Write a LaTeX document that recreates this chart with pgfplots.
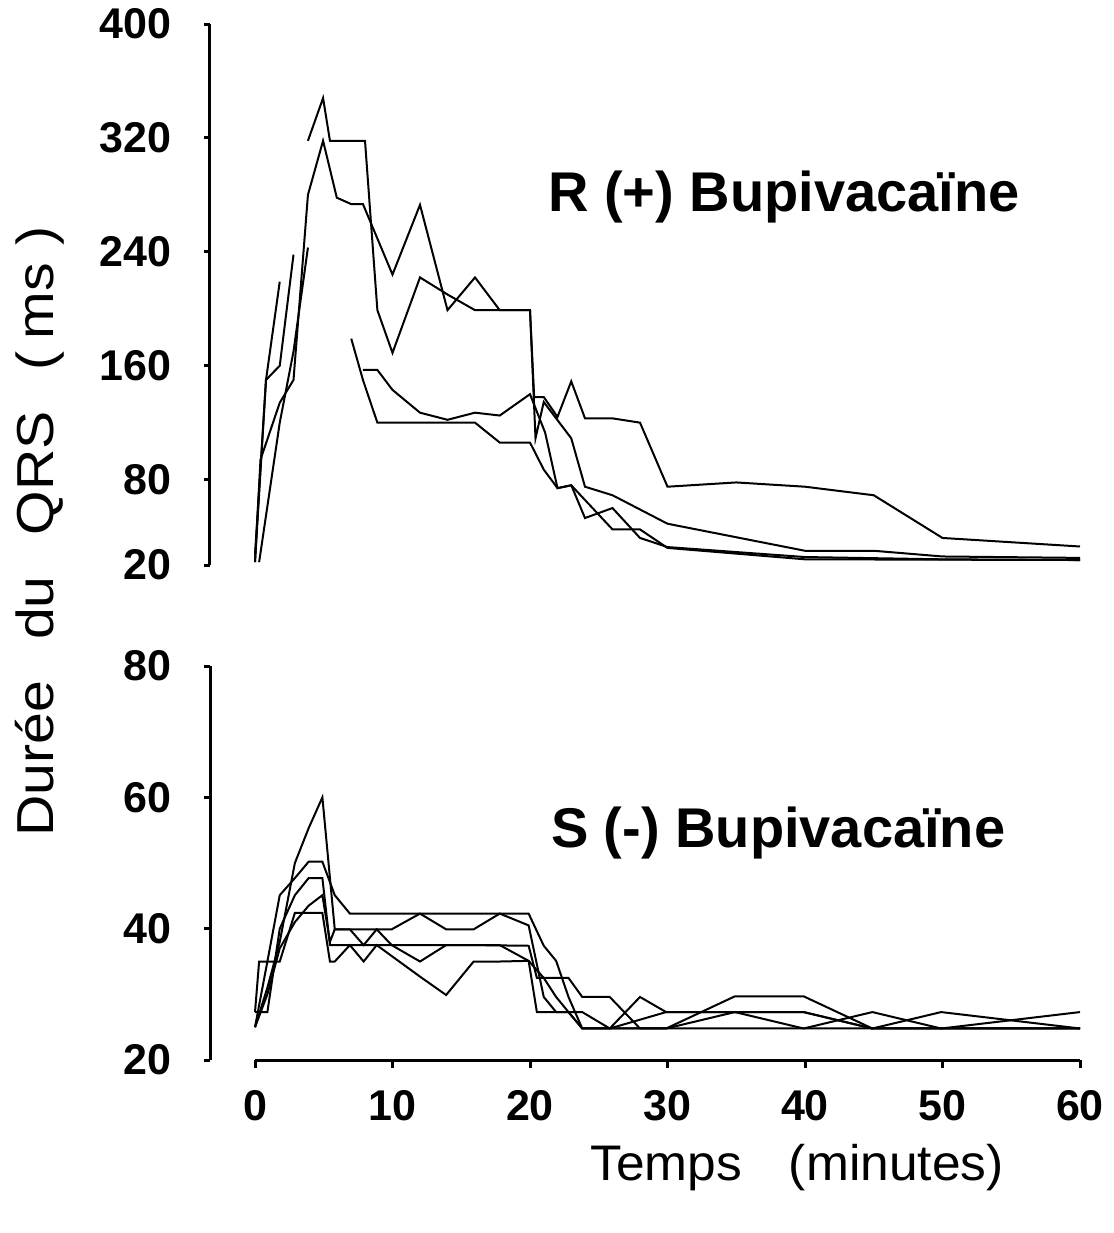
\documentclass[border=0pt]{standalone}
\usepackage{fontspec}
\setmainfont{Liberation Sans}
\newfontfamily\labfont{Liberation Sans}[FakeStretch=1.1]
\newfontfamily\xlabfont{Liberation Sans}[FakeStretch=1.03]
\usepackage{pgfplots}
\pgfplotsset{compat=1.18}
\begin{document}
\begin{tikzpicture}
\path[use as bounding box] (0,0) rectangle (557pt,-616.5pt);
\pgfplotsset{
  d/.style={black, line width=1pt, mark=none},
  panel/.style={scale only axis, width=435pt, xmin=-3.273, xmax=60,
    axis x line=none, axis y line*=left,
    axis line style={line width=1.5pt, black},
    major tick style={line width=1.5pt, black},
    tick align=outside, major tick length=3pt,
    yticklabel style={font=\fontsize{21.5}{21.5}\selectfont\bfseries, anchor=east, inner sep=0pt, xshift=-16pt},
    /pgf/number format/assume math mode=true,
    clip=false, anchor=south west},
}
% ---------------- top panel ----------------
\begin{axis}[panel, at={(105pt,-282.5pt)}, height=270.5pt,
  ymin=20, ymax=400, ytick={20,80,160,240,320,400}]
\addplot[d] coordinates {(0,22) (0.8,150) (1.8,219)};
\addplot[d] coordinates {(0,27) (0.8,150) (1.8,160) (2.8,238)};
\addplot[d] coordinates {(0.3,22) (1.8,120) (2.8,170) (3.85,243)};
\addplot[d] coordinates {(0,22) (0.4,94) (1.8,134) (2.8,150) (3.85,280) (4.95,318) (5.95,278) (7,273.5) (7.85,273.5) (10,224) (12,273) (14,199) (16,222) (17.8,199) (20,199) (20.3,138) (21,138) (22,124) (23,149) (24,123) (26,123) (28,120) (30,75) (35,78) (40,75) (45,69) (50,39) (60,33)};
\addplot[d] coordinates {(3.85,318) (4.95,348) (5.45,318) (8,318) (8.9,199) (10,169) (12,222) (14,210) (16,199) (17.8,199) (20,199) (20.4,109) (21,134.5) (23,109) (24,75) (26,69) (30,49) (40,30) (45,30) (50,26) (60,25)};
\addplot[d] coordinates {(7,179) (7.85,150) (8.9,120) (16,120) (17.8,106) (20,106) (21,87) (22,74) (23,76) (24,53) (26,60) (28,39) (30,32.6) (40,25.6) (50,24) (60,23.5)};
\addplot[d] coordinates {(7.85,157) (8.9,157) (10,143) (12,127) (14,122) (16,127) (17.8,125) (20,140) (21.1,113) (22,74) (23,76) (26,45) (28,45) (30,32) (40,24) (60,23.5)};
\node[anchor=base west, inner sep=0pt, font=\fontsize{28}{28}\selectfont\bfseries] at (axis cs:21.3,268) {R (+) Bupivacaïne};
\node[anchor=base west, inner sep=0pt, rotate=90, font=\fontsize{26}{26}\labfont] at (axis cs:-14.69,-171)
  {Durée\hspace{20.5pt}du\hspace{20.5pt}QRS\hspace{20.5pt}(\hspace{6pt}ms\hspace{8.5pt})};
\end{axis}
% ---------------- bottom panel ----------------
\begin{axis}[panel, at={(105pt,-530pt)}, height=197pt,
  ymin=20, ymax=80, ytick={20,40,60,80}]
\addplot[d] coordinates {(0,25) (0.9,31) (1.8,38) (2.9,50) (3.9,55.3) (4.9,60) (5.8,39.9) (6.9,39.9) (7.9,39.9) (8.85,39.9) (9.94,39.9) (12,42.3) (13.9,39.9) (15.9,39.9) (17.8,42.3) (19.9,40.5) (21,29.6) (21.9,27.3) (23.8,27.3) (25.8,24.8) (28,24.8) (29.9,24.8) (34.9,29.7) (39.9,29.7) (44.9,24.8) (49.9,24.8) (60,24.8)};
\addplot[d] coordinates {(0,25) (0.9,35) (1.8,45.1) (2.9,47.7) (3.9,50.2) (4.9,50.2) (5.8,45.1) (6.9,42.3) (9.94,42.3) (12,42.3) (15.9,42.3) (19.9,42.3) (21,37.4) (21.9,35.1) (22.8,29.6) (23.8,24.8) (25.8,24.8) (28,29.6) (29.9,27.3) (34.9,27.3) (39.9,27.3) (44.9,24.8) (49.9,27.3) (60,24.8)};
\addplot[d] coordinates {(0,27.3) (0.9,27.3) (1.8,40) (2.9,45.1) (3.9,47.7) (4.9,47.7) (5.45,37.5) (5.8,37.5) (9.94,37.5) (12,37.5) (15.9,37.5) (19.9,37.4) (20.5,32.5) (22.8,32.5) (23.8,29.6) (25.8,29.6) (28,24.8) (29.9,24.8) (34.9,24.8) (39.9,24.8) (44.9,27.3) (49.9,24.8) (60,24.8)};
\addplot[d] coordinates {(0,25) (0.9,30) (1.8,37) (2.9,41) (3.9,43.5) (4.9,45.1) (5.45,38) (5.8,39.9) (6.9,39.9) (7.9,37.5) (8.85,39.9) (9.94,37.5) (12,35) (13.9,37.5) (15.9,37.5) (17.8,37.5) (19.9,35.1) (20.5,27.3) (22.8,27.3) (23.8,24.8) (25.8,24.8) (29.9,27.3) (34.9,27.3) (39.9,27.3) (44.9,24.8) (49.9,24.8) (60,24.8)};
\addplot[d] coordinates {(0,27.3) (0.3,35) (1.8,35) (2.9,42.4) (3.9,42.4) (4.9,42.4) (5.45,35) (5.8,35) (6.9,37.5) (7.9,35) (8.85,37.5) (12,32.7) (13.9,29.9) (15.9,35) (17.8,35) (19.9,35.1) (21,32.5) (21.9,29.6) (22.8,27.3) (23.8,24.8) (25.8,24.8) (28,24.8) (29.9,24.8) (34.9,27.3) (39.9,24.8) (49.9,24.8) (60,27.3)};
\node[anchor=base west, inner sep=0pt, font=\fontsize{28}{28}\selectfont\bfseries] at (axis cs:21.5,52.3) {S (-) Bupivacaïne};
\node[anchor=base west, inner sep=0pt, font=\fontsize{25}{25}\xlabfont] at (axis cs:24.36,1.6) {Temps\hspace{23.5pt}(minutes)};
\end{axis}
% ---------------- bottom x axis ----------------
\begin{axis}[scale only axis, at={(127.5pt,-530pt)}, anchor=south west,
  width=412.5pt, height=197pt, xmin=0, xmax=60, ymin=20, ymax=80,
  axis y line=none, axis x line*=bottom,
  axis line style={line width=1.5pt, black},
  major tick style={line width=1.5pt, black},
  tick align=outside, major tick length=4pt,
  xtick={0,10,20,30,40,50,60},
  xticklabel style={font=\fontsize{21.5}{21.5}\selectfont\bfseries, anchor=north, inner sep=0pt, yshift=-11pt},
  /pgf/number format/assume math mode=true]
\end{axis}
\end{tikzpicture}
\end{document}
